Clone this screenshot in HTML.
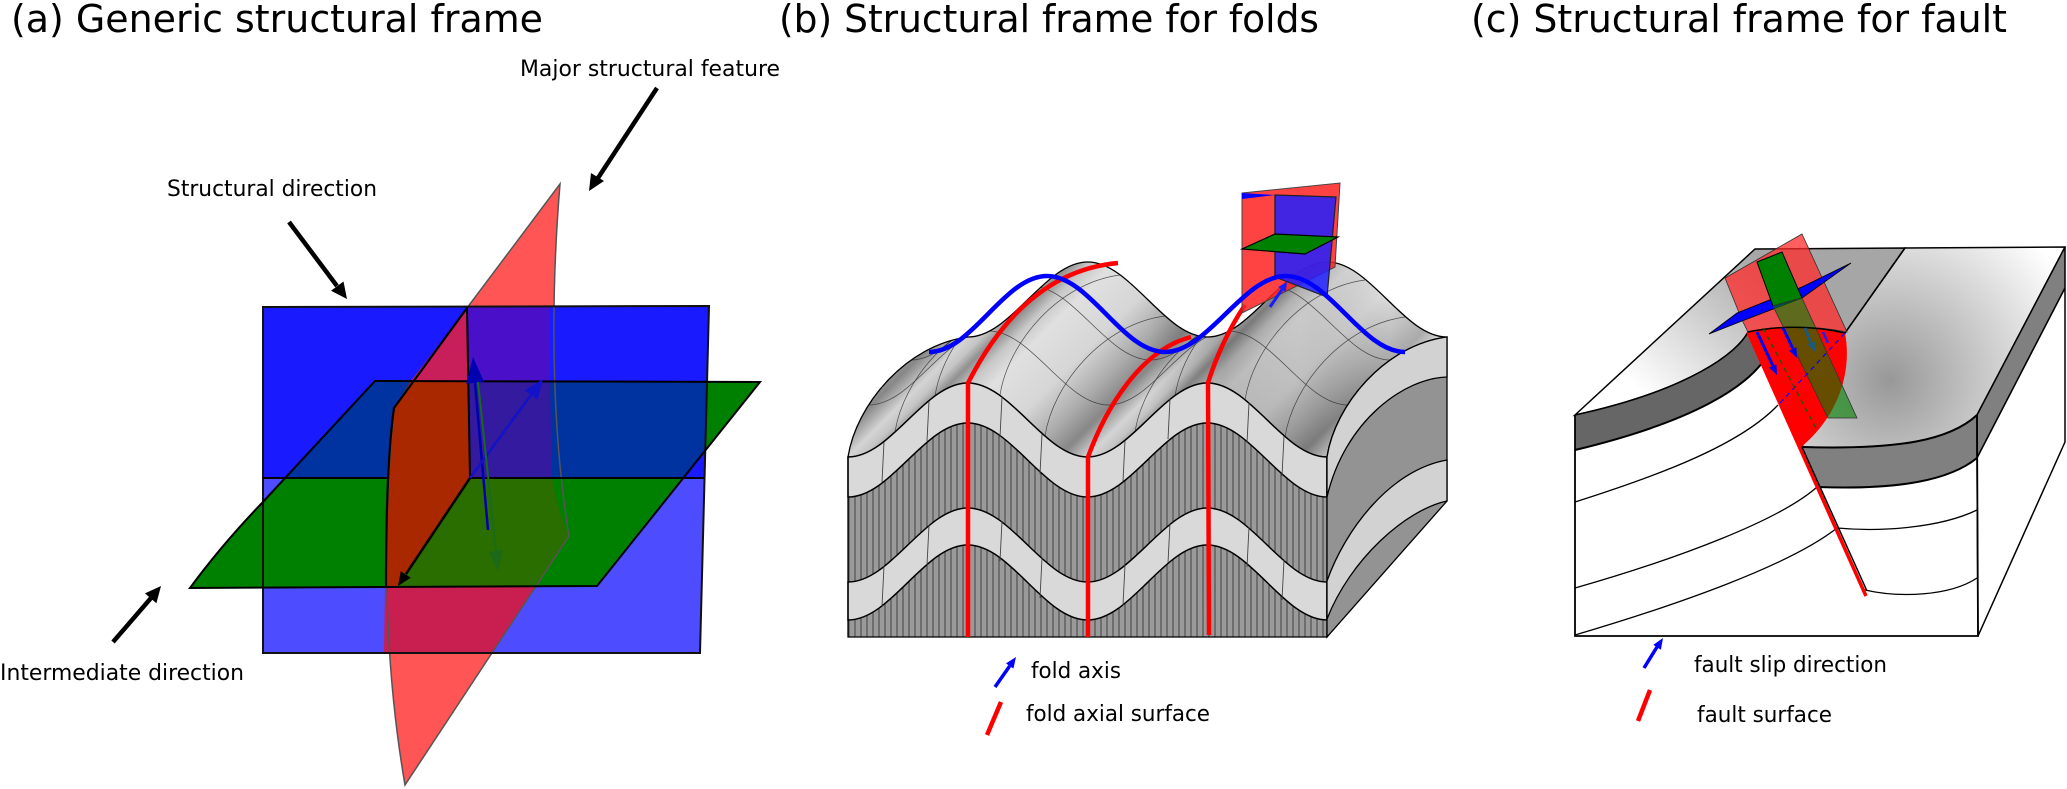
<!DOCTYPE html>
<html><head><meta charset="utf-8"><style>
html,body{margin:0;padding:0;background:#fff;}
svg{display:block;}
text{font-family:"DejaVu Sans","Liberation Sans",sans-serif;fill:#000;}
</style></head><body>
<svg width="2067" height="789" viewBox="0 0 2067 789" xmlns="http://www.w3.org/2000/svg">
<defs>
<pattern id="hatch" width="6" height="10" patternUnits="userSpaceOnUse">
<rect width="6" height="10" fill="#9a9a9a"/>
<line x1="3" y1="0" x2="3" y2="10" stroke="#2b2b2b" stroke-width="0.8"/>
</pattern>
<linearGradient id="topb" gradientUnits="userSpaceOnUse" x1="848" y1="457" x2="967.75" y2="576.75" spreadMethod="repeat">
<stop offset="0" stop-color="#d4d4d4"/>
<stop offset="0.06" stop-color="#c4c4c4"/>
<stop offset="0.12" stop-color="#909090"/>
<stop offset="0.2" stop-color="#c8c8c8"/>
<stop offset="0.3" stop-color="#e0e0e0"/>
<stop offset="0.55" stop-color="#d6d6d6"/>
<stop offset="0.75" stop-color="#aaaaaa"/>
<stop offset="0.88" stop-color="#878787"/>
<stop offset="1" stop-color="#d4d4d4"/>
</linearGradient>
<linearGradient id="ovb" gradientUnits="userSpaceOnUse" x1="1150" y1="0" x2="1450" y2="0">
<stop offset="0" stop-color="#000" stop-opacity="0"/>
<stop offset="0.25" stop-color="#000" stop-opacity="0.18"/>
<stop offset="0.5" stop-color="#000" stop-opacity="0.1"/>
<stop offset="0.8" stop-color="#fff" stop-opacity="0.25"/>
<stop offset="1" stop-color="#fff" stop-opacity="0.35"/>
</linearGradient>
<clipPath id="topclip">
<path d="M848,457 C891.1,457 924.6,383 967.75,383 S1044.4,457 1087.5,457 S1164.1,383 1207.25,383 S1283.9,457 1327,457 C1335,405 1385,345 1447,337 C1403.9,337 1370.4,262 1327.25,262 S1250.6,337 1207.5,337 S1130.9,262 1087.75,262 S1011.1,337 968,337 C906,345 856,405 848,457 Z"/>
</clipPath>
<linearGradient id="lgL" gradientUnits="userSpaceOnUse" x1="1650" y1="400" x2="1770" y2="265">
<stop offset="0" stop-color="#ffffff"/>
<stop offset="1" stop-color="#a6a6a6"/>
</linearGradient>
<radialGradient id="rgR" gradientUnits="userSpaceOnUse" cx="1890" cy="380" r="200">
<stop offset="0" stop-color="#989898"/>
<stop offset="1" stop-color="#ffffff"/>
</radialGradient>
</defs>

<!-- ================= TITLES ================= -->
<text x="11" y="32" font-size="38" textLength="532" lengthAdjust="spacingAndGlyphs">(a) Generic structural frame</text>
<text x="779" y="32" font-size="38" textLength="540" lengthAdjust="spacingAndGlyphs">(b) Structural frame for folds</text>
<text x="1471" y="32" font-size="38" textLength="536" lengthAdjust="spacingAndGlyphs">(c) Structural frame for fault</text>

<!-- ================= PANEL A ================= -->
<path d="M560,184 L467,308 L394,408 C385,500 380,640 405,785 L569,536 C555,450 548,330 560,184 Z" fill="#ff5555"/>
<path d="M263,307 L709,306 L704,478 L263,478 Z" fill="#1a1aff"/>
<path d="M263,478 L704,478 L700,653 L263,653 Z" fill="#4d4dff"/>
<path d="M190,588 C212,558 238,528 262,503 L375,381 L760,382 L597,586 Z" fill="#008000"/>
<path d="M375,381 L707,381 L705,451 L683,478 L285,478 Z" fill="#0033a0"/>
<path d="M467,308 L411,381 L468,381 Z" fill="#c81e5a"/>
<path d="M467,307 L550,307 L550,381 L468,381 Z" fill="#4a0fc8"/>
<path d="M411,381 L394,408 C390,440 388,460 387,478 L470,478 L468,381 Z" fill="#aa2800"/>
<path d="M387,478 L470,478 L398,586 L385,586 Z" fill="#aa2800"/>
<path d="M468,381 L550,381 L552,478 L470,478 Z" fill="#331a9e"/>
<path d="M470,478 L552,478 C556,500 562,520 569,536 L536,586 L398,586 Z" fill="#2a6e00"/>
<path d="M385,586 L536,586 L492,653 L384,653 Z" fill="#c81e50"/>
<path d="M560,184 L467,308 L394,408 C385,500 380,640 405,785 L569,536 C555,450 548,330 560,184 Z" fill="none" stroke="#555" stroke-width="1.5"/>
<path d="M263,307 L709,306 L700,653 L263,653 Z" fill="none" stroke="#111" stroke-width="2"/>
<path d="M263,478 L387,478 M470,478 L704,478" stroke="#000" stroke-width="2" fill="none"/>
<path d="M190,588 C212,558 238,528 262,503 L375,381 L760,382 L597,586 Z" fill="none" stroke="#000" stroke-width="2"/>
<path d="M467,308 L394,408 C388,450 386,520 386,586" fill="none" stroke="#000" stroke-width="2.2"/>
<path d="M467,307 L470,478" stroke="#000" stroke-width="2"/>
<line x1="488" y1="530" x2="475" y2="383" stroke="#0000b0" stroke-width="2.5"/>
<polygon points="473,357 484.2,382.1 466.2,383.7" fill="#0000b0"/>
<line x1="470" y1="478" x2="531" y2="395" stroke="#1212c8" stroke-width="2.5"/>
<polygon points="543,379 537.5,399.8 524.7,390.4" fill="#1212c8"/>
<line x1="478" y1="382" x2="496" y2="551" stroke="#1a6a1a" stroke-width="2"/>
<polygon points="498,571 502.9,550.4 488.9,551.8" fill="#1a6a1a"/>
<line x1="470" y1="478" x2="406" y2="574" stroke="#000" stroke-width="2.5"/>
<polygon points="398,586 410.8,577.7 400.8,571.1" fill="#000"/>
<text x="520" y="76" font-size="22" textLength="260" lengthAdjust="spacingAndGlyphs">Major structural feature</text>
<line x1="657" y1="88" x2="598" y2="178" stroke="#000" stroke-width="4.5"/>
<polygon points="589,191 604,181 591,173" fill="#000"/>
<text x="167" y="196" font-size="22" textLength="210" lengthAdjust="spacingAndGlyphs">Structural direction</text>
<line x1="289" y1="222" x2="337" y2="286" stroke="#000" stroke-width="4.5"/>
<polygon points="347,299 343.5,281.5 331,290.8" fill="#000"/>
<text x="0" y="680" font-size="22" textLength="244" lengthAdjust="spacingAndGlyphs">Intermediate direction</text>
<line x1="113" y1="642" x2="151" y2="598" stroke="#000" stroke-width="4.5"/>
<polygon points="161,586 156.4,603.2 145,593.4" fill="#000"/>

<!-- ================= PANEL B ================= -->
<path d="M848,457 C891.1,457 924.6,383 967.75,383 S1044.4,457 1087.5,457 S1164.1,383 1207.25,383 S1283.9,457 1327,457 C1335,405 1385,345 1447,337 C1403.9,337 1370.4,262 1327.25,262 S1250.6,337 1207.5,337 S1130.9,262 1087.75,262 S1011.1,337 968,337 C906,345 856,405 848,457 Z" fill="url(#topb)"/>
<g clip-path="url(#topclip)">
<rect x="1150" y="250" width="300" height="220" fill="url(#ovb)"/>
</g>
<g clip-path="url(#topclip)" fill="none" stroke="#2a2a2a" stroke-width="0.7" stroke-opacity="0.8">
<path d="M869,405 C912.1,405 945.6,331 988.75,331 S1065.4,405 1108.5,405 S1185.1,331 1228.25,331 S1304.9,405 1348,405"/>
<path d="M911,360 C954.1,360 987.6,286 1030.75,286 S1107.4,360 1150.5,360 S1227.1,286 1270.25,286 S1346.9,360 1390,360"/>
<path d="M895,432 c8,-52 58,-112 120,-120"/>
<path d="M935,396 c8,-52 58,-112 120,-120"/>
<path d="M1000,395 c8,-52 58,-112 120,-120"/>
<path d="M1045,436 c8,-52 58,-112 120,-120"/>
<path d="M1135,432 c8,-52 58,-112 120,-120"/>
<path d="M1175,396 c8,-52 58,-112 120,-120"/>
<path d="M1245,400 c8,-52 58,-112 120,-120"/>
<path d="M1285,437 c8,-52 58,-112 120,-120"/>
</g>
<path d="M848,457 C891.1,457 924.6,383 967.75,383 S1044.4,457 1087.5,457 S1164.1,383 1207.25,383 S1283.9,457 1327,457 C1335,405 1385,345 1447,337 C1403.9,337 1370.4,262 1327.25,262 S1250.6,337 1207.5,337 S1130.9,262 1087.75,262 S1011.1,337 968,337 C906,345 856,405 848,457 Z" fill="none" stroke="#000" stroke-width="1.3"/>
<path d="M848,457 C891.1,457 924.6,383 967.75,383 S1044.4,457 1087.5,457 S1164.1,383 1207.25,383 S1283.9,457 1327,457 L1327,637 L848,637 Z" fill="url(#hatch)"/>
<path d="M848,457 C891.1,457 924.6,383 967.75,383 S1044.4,457 1087.5,457 S1164.1,383 1207.25,383 S1283.9,457 1327,457 L1327,497 C1283.9,497 1250.4,423 1207.25,423 S1130.9,497 1087.5,497 S1011.1,423 967.75,423 S891.1,497 848,497 Z" fill="#d9d9d9" stroke="#000" stroke-width="1.5"/>
<path d="M848,582 C891.1,582 924.6,508 967.75,508 S1044.4,582 1087.5,582 S1164.1,508 1207.25,508 S1283.9,582 1327,582 L1327,620 C1283.9,620 1250.4,545 1207.25,545 S1130.9,620 1087.5,620 S1011.1,545 967.75,545 S891.1,620 848,620 Z" fill="#d9d9d9" stroke="#000" stroke-width="1.5"/>
<g stroke="#444" stroke-width="0.9">
<line x1="884" y1="442" x2="882" y2="482"/>
<line x1="929" y1="401" x2="927" y2="441"/>
<line x1="1002" y1="397" x2="1000" y2="437"/>
<line x1="1042" y1="434" x2="1040" y2="474"/>
<line x1="1125" y1="441" x2="1123" y2="481"/>
<line x1="1170" y1="399" x2="1168" y2="439"/>
<line x1="1249" y1="403" x2="1247" y2="443"/>
<line x1="1284" y1="436" x2="1282" y2="476"/>
<line x1="884" y1="566" x2="882" y2="606"/>
<line x1="929" y1="525" x2="927" y2="565"/>
<line x1="1002" y1="521" x2="1000" y2="561"/>
<line x1="1042" y1="558" x2="1040" y2="598"/>
<line x1="1125" y1="565" x2="1123" y2="605"/>
<line x1="1170" y1="523" x2="1168" y2="563"/>
<line x1="1249" y1="527" x2="1247" y2="567"/>
<line x1="1284" y1="560" x2="1282" y2="600"/>
</g>
<path d="M848,457 L848,637 L1327,637 L1327,457" fill="none" stroke="#000" stroke-width="1.3"/>
<path d="M1327,457 C1335,405 1385,345 1447,337 L1447,501 L1327,637 Z" fill="#939393" stroke="#000" stroke-width="1.3"/>
<path d="M1327,457 C1335,405 1385,345 1447,337 L1447,377 C1405,378 1345,420 1327,497 Z" fill="#d2d2d2" stroke="#000" stroke-width="1.3"/>
<path d="M1327,581 C1345,530 1390,470 1447,460 L1447,501 C1405,510 1350,560 1327,619 Z" fill="#d2d2d2" stroke="#000" stroke-width="1.3"/>
<g fill="none" stroke="#ff0000" stroke-width="4.5">
<path d="M968,637 L968,383 C995,330 1040,270 1118,263"/>
<path d="M1088,637 L1088,457 C1105,410 1140,350 1191,337"/>
<path d="M1209,635 L1208,383 C1215,360 1228,330 1245,305"/>
</g>
<path d="M1242,193 L1340,183 L1335,267 L1242,313 Z" fill="#ff2222" fill-opacity="0.85" stroke="#444" stroke-width="1"/>
<path d="M1242,193 L1275,195 L1242,199 Z" fill="#0000ff"/>
<path d="M1275,195 L1336,197 L1327,297 L1275,277 Z" fill="#2020ff" fill-opacity="0.85" stroke="#222" stroke-width="1.2"/>
<line x1="1275" y1="195" x2="1275" y2="277" stroke="#222" stroke-width="1.2"/>
<path d="M1242,249 L1275,234 L1338,237 L1305,254 Z" fill="#008000" stroke="#000" stroke-width="1.2"/>
<path d="M929,352 C972,352 1004,276 1047,276 S1122,352 1165,352 S1243,276 1286,276 S1362,352 1405,352" fill="none" stroke="#0000ff" stroke-width="4.5"/>
<line x1="1270" y1="307" x2="1282" y2="289.5" stroke="#1a1aff" stroke-width="3"/>
<polygon points="1287,282 1285.6,292 1278.2,287" fill="#1a1aff"/>
<line x1="995" y1="687" x2="1009.7" y2="666" stroke="#0000ff" stroke-width="3.5"/>
<polygon points="1016,657 1013.4,668.6 1006,663.4" fill="#0000ff"/>
<text x="1031" y="678" font-size="22" textLength="90" lengthAdjust="spacingAndGlyphs">fold axis</text>
<line x1="1001" y1="702" x2="987" y2="735" stroke="#ff0000" stroke-width="4.5"/>
<text x="1026" y="721" font-size="22" textLength="184" lengthAdjust="spacingAndGlyphs">fold axial surface</text>

<!-- ================= PANEL C ================= -->
<path d="M1575,415 L1755,249 L1905,248 L1845,333 Q1797,322 1748,332 C1738,352 1690,390 1575,415 Z" fill="url(#lgL)" stroke="#000" stroke-width="1.5"/>
<path d="M1575,415 C1690,390 1738,352 1748,332 L1762,363 C1745,385 1700,420 1575,450 Z" fill="#666666"/>
<path d="M1905,248 L2065,247 L1977,415 C1950,440 1900,450 1802,447 L1845,333 Z" fill="url(#rgR)" stroke="#000" stroke-width="1.5"/>
<path d="M1802,447 C1900,450 1950,440 1977,415 L1977,458 C1950,480 1900,490 1817,487 Z" fill="#808080"/>
<path d="M1977,415 L2065,247 L2065,288 L1977,458 Z" fill="#808080" stroke="#000" stroke-width="1.5"/>
<path d="M1977,458 L2065,288 L2065,442 L1978,636 Z" fill="#fff" stroke="#000" stroke-width="1.5"/>
<path d="M1575,415 L1575,636 L1978,636 L1977,415" fill="none" stroke="#000" stroke-width="1.8"/>
<path d="M1575,415 C1690,390 1738,352 1748,332" fill="none" stroke="#000" stroke-width="1.5"/>
<path d="M1575,450 C1700,420 1745,385 1762,363" fill="none" stroke="#000" stroke-width="2"/>
<path d="M1802,447 C1900,450 1950,440 1977,415" fill="none" stroke="#000" stroke-width="2"/>
<path d="M1817,487 C1900,490 1950,480 1977,458" fill="none" stroke="#000" stroke-width="2"/>
<g fill="none" stroke="#000" stroke-width="1.3">
<path d="M1575,502 C1660,475 1740,445 1778,405"/>
<path d="M1575,588 C1680,558 1780,520 1817,487"/>
<path d="M1575,635 C1680,604 1790,565 1837,528"/>
<path d="M1837,528 C1880,532 1940,528 1977,510"/>
<path d="M1865,590 C1900,598 1950,596 1977,578"/>
</g>
<path d="M1748,332 Q1797,322 1845,333 C1852,370 1840,415 1800,448 Z" fill="#ff0000"/>
<line x1="1748" y1="332" x2="1866" y2="596" stroke="#ff0000" stroke-width="3.5"/>
<line x1="1802" y1="447" x2="1867" y2="591" stroke="#000" stroke-width="1.5"/>
<line x1="1905" y1="248" x2="1845" y2="333" stroke="#000" stroke-width="1.5"/>
<path d="M1725,278 L1802,234 L1847,332 Q1797,322 1748,332 L1742,320 Z" fill="#ff2a2a" fill-opacity="0.75" stroke="#333" stroke-width="0.8"/>
<path d="M1709,334 L1737,313 L1802,287 L1851,263 L1802,298 L1742,321 Z" fill="#0000ff" stroke="#000" stroke-width="0.8"/>
<path d="M1757,262 L1782,252 L1802,298 L1773,306 Z" fill="#008000" stroke="#000" stroke-width="1"/>
<path d="M1773,306 L1802,298 L1857,418 L1828,418 Z" fill="#008000" fill-opacity="0.6" stroke="#333" stroke-width="0.8"/>
<path d="M1748,332 Q1797,322 1845,333" fill="none" stroke="#000" stroke-width="1.5"/>
<line x1="1780" y1="403" x2="1845" y2="333" stroke="#0000ff" stroke-width="1.2" stroke-dasharray="5,4"/>
<line x1="1763" y1="328" x2="1817" y2="430" stroke="#006000" stroke-width="1.2" stroke-dasharray="5,4"/>
<line x1="1757" y1="332" x2="1773" y2="366" stroke="#0000ee" stroke-width="3"/>
<polygon points="1777,375 1776.4,364.2 1769.2,367.6" fill="#0000ee"/>
<line x1="1783" y1="328" x2="1793" y2="349" stroke="#0000ee" stroke-width="3"/>
<polygon points="1797,358 1796.4,347.2 1789.2,350.6" fill="#0000ee"/>
<line x1="1805" y1="328" x2="1811" y2="343" stroke="#1a5a7a" stroke-width="3"/>
<polygon points="1815,352 1814.9,341.3 1807.5,344.3" fill="#1a5a7a"/>
<line x1="1823" y1="332" x2="1828" y2="343" stroke="#2020ee" stroke-width="2.5"/>
<line x1="1644" y1="668" x2="1657" y2="647" stroke="#0000ff" stroke-width="3.5"/>
<polygon points="1663,638 1660.9,649.7 1653.3,644.9" fill="#0000ff"/>
<text x="1694" y="672" font-size="22" textLength="193" lengthAdjust="spacingAndGlyphs">fault slip direction</text>
<line x1="1650" y1="690" x2="1638" y2="721" stroke="#ff0000" stroke-width="4.5"/>
<text x="1697" y="722" font-size="22" textLength="135" lengthAdjust="spacingAndGlyphs">fault surface</text>
</svg>
</body></html>
